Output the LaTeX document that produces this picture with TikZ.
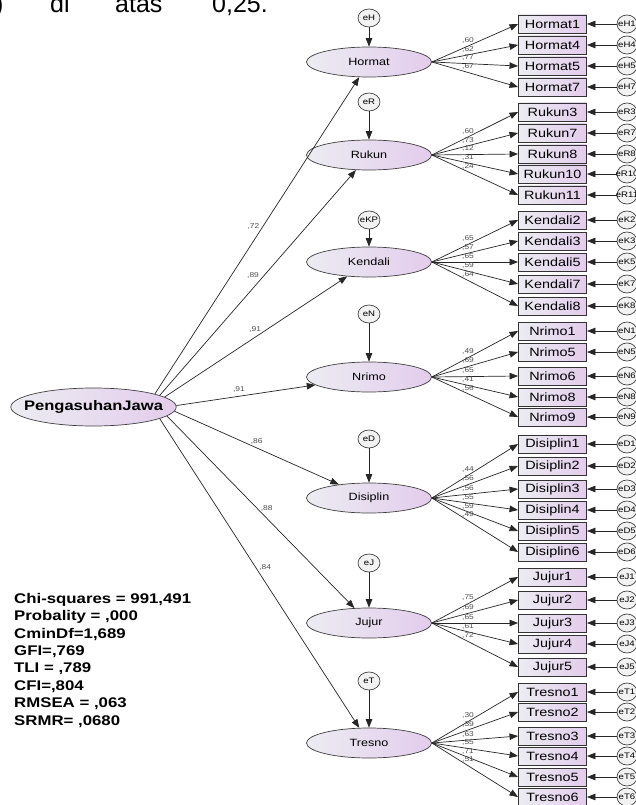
\documentclass[tikz,border=0pt]{standalone}
\usepackage{fontspec}
\setmainfont{Liberation Sans}[FakeStretch=1.2]
\newfontfamily\pagefont{Liberation Sans}
\usetikzlibrary{shapes,arrows.meta,positioning}
\definecolor{lavL}{HTML}{ECECF2}
\definecolor{lavR}{HTML}{E3CCEC}
\definecolor{errfill}{HTML}{F2F2F2}

\begin{document}
\begin{tikzpicture}[x=1pt,y=-1pt,
    latent/.style={ellipse,draw=black!75,line width=0.7pt,left color=lavL,right color=lavR,
      minimum width=125pt,minimum height=30pt,inner sep=0pt,font=\fontsize{10.5}{12}\selectfont},
    indic/.style={rectangle,draw=black!80,line width=0.9pt,left color=lavL,right color=lavR,
      minimum width=68pt,minimum height=18pt,inner sep=0pt,font=\fontsize{12}{12}\selectfont},
    errc/.style={ellipse,draw=black!75,line width=0.7pt,fill=errfill,minimum width=22pt,
      minimum height=18pt,inner sep=0pt,font=\fontsize{8}{8}\selectfont},
    arr/.style={draw=black!85,line width=0.7pt,-{Triangle[length=8.5pt,width=6.5pt]}},
    coef/.style={font=\fontsize{7}{7}\selectfont,text=black!70,inner sep=0.5pt}]

    \useasboundingbox (0,0) rectangle (635,805);

    % line of text cut off above the figure
    \begin{scope}
        \clip (0,0) rectangle (635,805);
        \tikzset{cut/.style={anchor=base west,inner sep=0pt,font=\pagefont\fontsize{25}{25}\selectfont}}
        \node[cut] (cutA) at (-5,13) {)};
        \node[cut] (cutB) at (50,13) {di};
        \node[cut] (cutC) at (115,13) {atas};
        \node[cut] (cutD) at (212,13) {0,25.};
    \end{scope}

    % exogenous latent
    \node[latent,minimum width=163pt,minimum height=38pt,inner xsep=-11pt,
        font=\bfseries\fontsize{13.8}{14}\selectfont] (pj) at (93.5,407) {PengasuhanJawa};

    % latent factors with their disturbances
    \foreach \lat/\yy/\ee/\ey in {Hormat/62/eH/18, Rukun/155/eR/102, Kendali/262/eKP/220,
        Nrimo/377/eN/314, Disiplin/498/eD/439, Jujur/623/eJ/563, Tresno/743/eT/681}{
        \node[latent] (\lat) at (369,\yy) {\lat};
        \node[errc,inner xsep=-2pt] (\ee) at (369,\ey) {\ee};
        \draw[arr] (\ee) -- (\lat);
    }

    % structural paths
    \draw[arr] (pj.12) -- (Hormat) node[coef,pos=0.53,left=3pt] {,72};
    \draw[arr] (pj.10) -- (Rukun) node[coef,pos=0.53,left=4pt] {,89};
    \draw[arr] (pj.8) -- (Kendali) node[coef,pos=0.56,left=5pt] {,91};
    \draw[arr] (pj.1) -- (Nrimo) node[coef,pos=0.45,above=3pt] {,91};
    \draw[arr] (pj.-3) -- (Disiplin) node[coef,pos=0.5,above=3pt] {,86};
    \draw[arr] (pj.-7) -- (Jujur) node[coef,pos=0.48,right=3pt] {,88};
    \draw[arr] (pj.-10) -- (Tresno) node[coef,pos=0.48,right=3pt] {,84};

    % indicators, loadings and measurement errors
    \foreach \lat/\nr/\yy/\lo/\el in {Hormat/1/24/{,60}/H, Hormat/4/45/{,62}/H, Hormat/5/66/{,77}/H, Hormat/7/87/{,67}/H,
        Rukun/3/112/{,60}/R, Rukun/7/133/{,73}/R, Rukun/8/154/{,12}/R, Rukun/10/174/{,31}/R, Rukun/11/195/{,24}/R,
        Kendali/2/220/{,65}/K, Kendali/3/241/{,57}/K, Kendali/5/262/{,65}/K, Kendali/7/284/{,59}/K, Kendali/8/306/{,64}/K,
        Nrimo/1/331/{,49}/N, Nrimo/5/352/{,69}/N, Nrimo/6/376/{,65}/N, Nrimo/8/397/{,41}/N, Nrimo/9/417/{,56}/N,
        Disiplin/1/444/{,44}/D, Disiplin/2/466/{,56}/D, Disiplin/3/489/{,56}/D, Disiplin/4/510/{,55}/D, Disiplin/5/531/{,59}/D, Disiplin/6/552/{,49}/D,
        Jujur/1/577/{,75}/J, Jujur/2/600/{,69}/J, Jujur/3/623/{,65}/J, Jujur/4/644/{,61}/J, Jujur/5/667/{,72}/J,
        Tresno/1/692/{,30}/T, Tresno/2/712/{,39}/T, Tresno/3/736/{,63}/T, Tresno/4/756/{,55}/T, Tresno/5/777/{,71}/T, Tresno/6/797/{,51}/T}{
        \node[indic] (\lat\nr) at (552.5,\yy) {\lat\nr};
        \node[errc,minimum width=20pt,inner xsep=-6pt] (e\lat\nr) at (627,\yy) {e\el\nr};
        \draw[arr] (e\lat\nr) -- (\lat\nr);
        \draw[arr] (\lat.east) -- (\lat\nr.west) node[coef,pos=0.42,above=2pt] {\lo};
    }

    % fit indices
    \node[anchor=north west,align=left,inner sep=0pt,font=\bfseries\fontsize{14}{17.4}\selectfont] (fit) at (14,593)
        {Chi-squares = 991,491\\Probality = ,000\\CminDf=1,689\\GFI=,769\\TLI = ,789\\CFI=,804\\RMSEA = ,063\\SRMR= ,0680};
\end{tikzpicture}
\end{document}
